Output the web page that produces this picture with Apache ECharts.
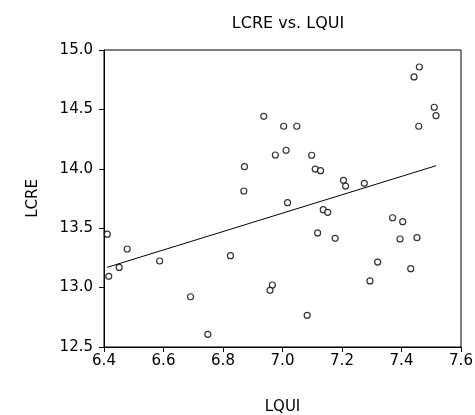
<!DOCTYPE html>
<html>
<head>
<meta charset="utf-8">
<script src="https://cdn.jsdelivr.net/npm/echarts@6/dist/echarts.min.js"></script>
<style>html,body{margin:0;padding:0;background:#fff}#c{width:475px;height:415px}</style>
</head>
<body>
<div id="c"></div>
<script>
var titleText = 'LCRE vs. LQUI';
var xName = 'LQUI';
var yName = 'LCRE';
var lqui = [6.411, 6.416, 6.451, 6.478, 6.587, 6.691, 6.749, 6.825, 6.870, 6.872,
  6.937, 7.004, 7.048, 6.976, 7.012, 7.098, 7.110, 7.128, 7.205, 7.212, 7.275,
  7.460, 7.442, 7.510, 7.516, 7.458,
  7.017, 7.137, 7.152, 7.118, 7.177, 7.370, 7.404, 7.395, 7.452, 7.320, 7.431,
  7.294, 6.966, 6.958, 7.083];
var lcre = [13.45, 13.095, 13.17, 13.325, 13.224, 12.923, 12.607, 13.269, 13.813, 14.018,
  14.442, 14.358, 14.358, 14.116, 14.156, 14.114, 13.998, 13.984, 13.903, 13.855, 13.878,
  14.857, 14.773, 14.518, 14.447, 14.358,
  13.715, 13.656, 13.634, 13.460, 13.415, 13.588, 13.555, 13.409, 13.420, 13.215, 13.159,
  13.056, 13.022, 12.977, 12.767];
var fitX = [6.41, 7.516];
var fitY = [13.17, 14.026];
var xTicks = {min: 6.4, max: 7.6, step: 0.2};
var yTicks = {min: 12.5, max: 15.0, step: 0.5};

var pts = lqui.map(function (x, i) { return [x, lcre[i]]; });
var fit = fitX.map(function (x, i) { return [x, fitY[i]]; });
var font = 'DejaVu Sans';
var chart = echarts.init(document.getElementById('c'), null, {renderer: 'canvas'});
chart.setOption({
  animation: false,
  backgroundColor: '#fff',
  title: {
    text: titleText, left: 283, top: 11, textAlign: 'center',
    textStyle: {fontFamily: font, fontSize: 16, fontWeight: 'normal', color: '#000'}
  },
  grid: {left: 104, right: 14, top: 50, bottom: 68, containLabel: false, outerBoundsMode: 'none',
    show: true, borderColor: '#000', borderWidth: 1, backgroundColor: 'transparent'},
  xAxis: {
    type: 'value', min: xTicks.min, max: xTicks.max, interval: xTicks.step,
    name: xName, nameLocation: 'middle', nameGap: 53,
    nameTextStyle: {fontFamily: font, fontSize: 15, color: '#000'},
    axisLine: {show: true, onZero: false, lineStyle: {color: '#000', width: 1}},
    axisTick: {show: true, inside: false, length: 5, lineStyle: {color: '#000'}},
    axisLabel: {fontFamily: font, fontSize: 15, color: '#000', margin: 7,
      formatter: function (v) { return v.toFixed(1); }},
    splitLine: {show: false}
  },
  yAxis: {
    type: 'value', min: yTicks.min, max: yTicks.max, interval: yTicks.step,
    name: yName, nameLocation: 'middle', nameGap: 63, nameRotate: 90,
    nameTextStyle: {fontFamily: font, fontSize: 15, color: '#000'},
    axisLine: {show: true, onZero: false, lineStyle: {color: '#000', width: 1}},
    axisTick: {show: true, inside: false, length: 5, lineStyle: {color: '#000'}},
    axisLabel: {fontFamily: font, fontSize: 15, color: '#000', margin: 11,
      formatter: function (v) { return v.toFixed(1); }},
    splitLine: {show: false}
  },
  series: [
    {
      type: 'scatter', data: pts, symbol: 'circle', symbolSize: 6,
      itemStyle: {color: '#fff', borderColor: '#000', borderWidth: 1.2}
    },
    {
      type: 'line', data: fit, symbol: 'none', z: 1,
      lineStyle: {color: '#000', width: 1}
    }
  ]
});
</script>
</body>
</html>
